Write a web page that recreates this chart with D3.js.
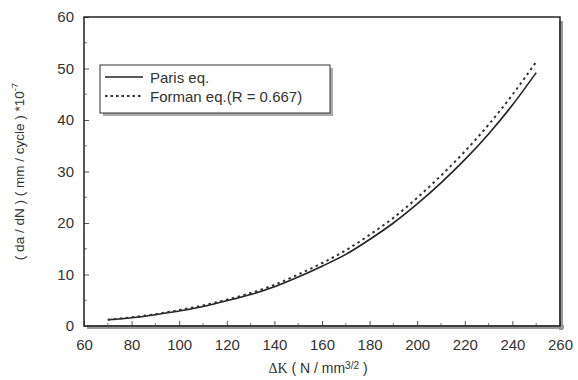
<!DOCTYPE html>
<html><head><meta charset="utf-8">
<script src="https://cdn.jsdelivr.net/npm/d3@7"></script>
<style>
html,body{margin:0;padding:0;background:#fff;}
svg{display:block;}
text{font-family:"Liberation Sans",Arial,sans-serif;fill:#333;}
</style></head>
<body><svg id="chart" width="578" height="380"></svg>
<script>
const deltaK = [70,80,90,100,110,120,130,140,150,160,170,180,190,200,210,220,230,240,250];
const parisValues = [1.2,1.6,2.2,2.9,3.8,4.9,6.1,7.6,9.5,11.6,13.9,16.8,20.0,23.7,27.8,32.3,37.3,42.9,49.2];
const formanValues = [1.2,1.7,2.3,3.1,4.0,5.1,6.4,8.0,10.0,12.2,14.7,17.7,21.0,24.9,29.2,33.9,39.1,44.9,51.3];
const xTicks = [60,80,100,120,140,160,180,200,220,240,260];
const yTicks = [0,10,20,30,40,50,60];
const seriesNames = ["Paris eq.","Forman eq.(R = 0.667)"];

const svg = d3.select("#chart");
const m = {left:84, right:18, top:17, bottom:54};
const W = 578, H = 380;
const x = d3.scaleLinear().domain([60,260]).range([m.left, W - m.right]);
const y = d3.scaleLinear().domain([0,60]).range([H - m.bottom, m.top]);

// frame shadow (right & bottom)
svg.append("rect").attr("x", x(260)-1).attr("y", y(60)+4).attr("width",4).attr("height", y(0)-y(60))
  .attr("fill","#999");
svg.append("rect").attr("x", x(60)+3).attr("y", y(0)-1).attr("width", x(260)-x(60)+1).attr("height",4)
  .attr("fill","#999");

// axes with inward ticks
const xAxis = d3.axisBottom(x).tickValues(xTicks).tickSize(-5).tickPadding(10).tickFormat(d3.format("d"));
const yAxis = d3.axisLeft(y).tickValues(yTicks).tickSize(-5).tickPadding(10).tickFormat(d3.format("d"));
const gx = svg.append("g").attr("transform",`translate(0,${y(0)})`).call(xAxis);
const gy = svg.append("g").attr("transform",`translate(${x(60)},0)`).call(yAxis);
[gx,gy].forEach(g=>{
  g.select(".domain").remove();
  g.selectAll(".tick line").attr("stroke","#555").attr("stroke-width",1);
  g.selectAll(".tick text").attr("font-size",15).attr("fill","#333")
    .attr("font-family","Liberation Sans, Arial, sans-serif");
});
gx.selectAll(".tick text").attr("dy","0.9em");
// minor ticks
const xMinor = d3.range(70,260,20);
svg.append("g").selectAll("line").data(xMinor).join("line")
  .attr("x1",d=>x(d)).attr("x2",d=>x(d)).attr("y1",y(0)).attr("y2",y(0)-3)
  .attr("stroke","#777");
const yMinor = d3.range(5,60,10);
svg.append("g").selectAll("line").data(yMinor).join("line")
  .attr("x1",x(60)).attr("x2",x(60)+3).attr("y1",d=>y(d)).attr("y2",d=>y(d))
  .attr("stroke","#777");

// frame
svg.append("rect").attr("x",x(60)).attr("y",y(60)).attr("width",x(260)-x(60)).attr("height",y(0)-y(60))
  .attr("fill","none").attr("stroke","#222").attr("stroke-width",1.5);

// curves
const line = d3.line().x(d=>x(d[0])).y(d=>y(d[1])).curve(d3.curveMonotoneX);
svg.append("path").datum(deltaK.map((k,i)=>[k,parisValues[i]]))
  .attr("d",line).attr("fill","none").attr("stroke","#222").attr("stroke-width",1.6);
svg.append("path").datum(deltaK.map((k,i)=>[k,formanValues[i]]))
  .attr("d",line).attr("fill","none").attr("stroke","#333").attr("stroke-width",2)
  .attr("stroke-dasharray","2.5,3.5");

// legend
const lg = svg.append("g");
const lx = 100, ly = 65, lw = 230, lh = 48;
lg.append("rect").attr("x",lx+3).attr("y",ly+3).attr("width",lw).attr("height",lh).attr("fill","#aaa");
lg.append("rect").attr("x",lx).attr("y",ly).attr("width",lw).attr("height",lh)
  .attr("fill","#fff").attr("stroke","#333").attr("stroke-width",1);
lg.append("line").attr("x1",lx+5).attr("x2",lx+43).attr("y1",ly+12).attr("y2",ly+12)
  .attr("stroke","#222").attr("stroke-width",1.5);
lg.append("line").attr("x1",lx+5).attr("x2",lx+43).attr("y1",ly+31).attr("y2",ly+31)
  .attr("stroke","#333").attr("stroke-width",2).attr("stroke-dasharray","2.5,3");
lg.append("text").attr("x",lx+50).attr("y",ly+18).attr("font-size",15).text(seriesNames[0]);
lg.append("text").attr("x",lx+50).attr("y",ly+37).attr("font-size",15).text(seriesNames[1]);

// axis titles
const xt = svg.append("text").attr("x",(x(60)+x(260))/2 - 4).attr("y",373)
  .attr("text-anchor","middle").attr("font-size",14).attr("fill","#444");
xt.append("tspan").attr("font-family","Liberation Serif, Times New Roman, serif").text("ΔK");
xt.append("tspan").text(" ( N / mm");
xt.append("tspan").attr("font-size",10).attr("dy",-4).text("3/2");
xt.append("tspan").attr("dy",4).text(" )");

const yt = svg.append("text").attr("transform",`translate(24,${(y(0)+y(60))/2}) rotate(-90)`)
  .attr("text-anchor","middle").attr("font-size",13.5).attr("fill","#555");
yt.append("tspan").text("( da / dN )  ( mm / cycle ) *10");
yt.append("tspan").attr("font-size",9.5).attr("dy",-6).text("-7");
</script>
</body></html>
